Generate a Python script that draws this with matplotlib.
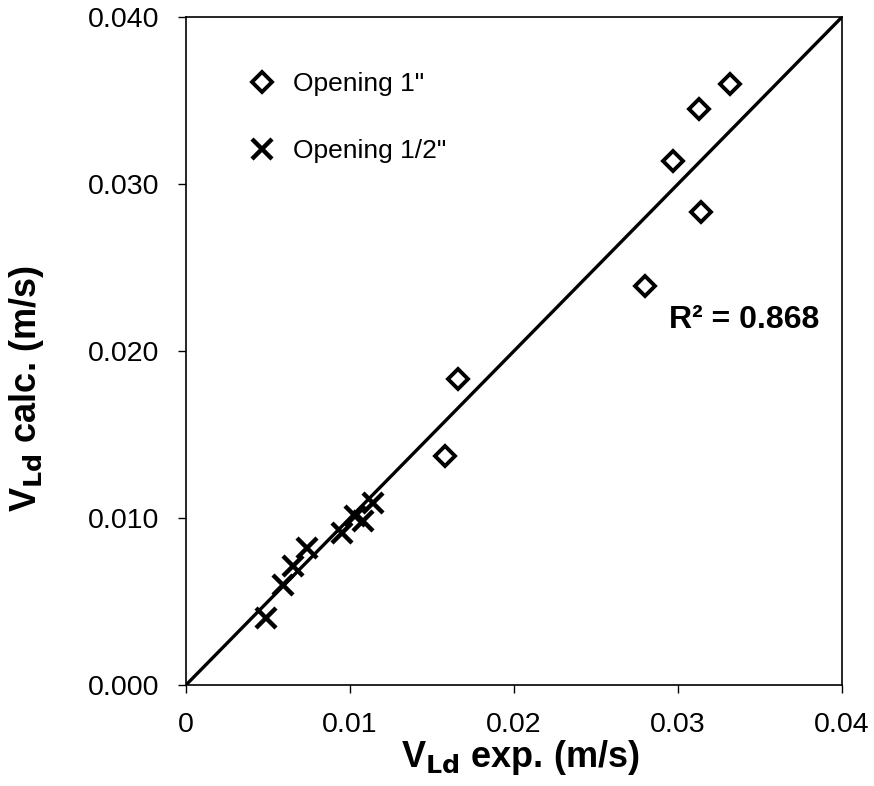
import numpy as np
import matplotlib.pyplot as plt

plt.rcParams['font.family'] = ['Liberation Sans', 'DejaVu Sans']
plt.rcParams['mathtext.default'] = 'bf'

# Opening 1" (diamonds)
x1 = [0.0166, 0.0158, 0.0332, 0.0313, 0.0297, 0.0314, 0.0280]
y1 = [0.0183, 0.0137, 0.0360, 0.0345, 0.0314, 0.0283, 0.0239]
# Opening 1/2" (crosses)
x2 = [0.0049, 0.0059, 0.0065, 0.0074, 0.0095, 0.0103, 0.0108, 0.0114]
y2 = [0.0040, 0.0060, 0.0071, 0.0082, 0.0091, 0.0101, 0.0098, 0.0109]
# fitted line
xl = [0.0, 0.04]
yl = [0.0, 0.04]

fig = plt.figure(figsize=(8.74, 7.86), dpi=100)
ax = fig.add_axes([0.2128, 0.1285, 0.7506, 0.8499])

ax.plot(xl, yl, color='black', lw=2.4)
ax.plot(x1, y1, 'D', ms=10, mfc='white', mec='black', mew=2.8, ls='none', label='Opening 1"')
ax.plot(x2, y2, 'x', ms=14, mec='black', mew=3.2, ls='none', label='Opening 1/2"')

ax.set_xlim(0, 0.04)
ax.set_ylim(0, 0.040)
ax.set_xticks([0, 0.01, 0.02, 0.03, 0.04])
ax.set_xticklabels(['0', '0.01', '0.02', '0.03', '0.04'])
ax.set_yticks([0, 0.01, 0.02, 0.03, 0.04])
ax.set_yticklabels(['0.000', '0.010', '0.020', '0.030', '0.040'])
ax.tick_params(labelsize=20.5, direction='out', length=5.5, width=1)
ax.tick_params(axis='x', pad=14)
ax.tick_params(axis='y', pad=14)
for s in ax.spines.values():
    s.set_linewidth(1.2)

ax.set_xlabel(r'V$_{\mathbf{Ld}}$ exp. (m/s)', fontsize=26, fontweight='bold')
ax.set_ylabel(r'V$_{\mathbf{Ld}}$ calc. (m/s)', fontsize=26, fontweight='bold')
ax.xaxis.set_label_coords(0.509, -0.08)
ax.yaxis.set_label_coords(-0.213, 0.443)

ax.text(0.02945, 0.02135, 'R² = 0.868', fontsize=23, fontweight='bold')

leg = ax.legend(loc='upper left', bbox_to_anchor=(0.0957, 0.918), frameon=False, fontsize=19,
                borderpad=0, borderaxespad=0, handlelength=1.0, handletextpad=0.67,
                labelspacing=1.64)

fig.savefig('out.png', dpi=100)
